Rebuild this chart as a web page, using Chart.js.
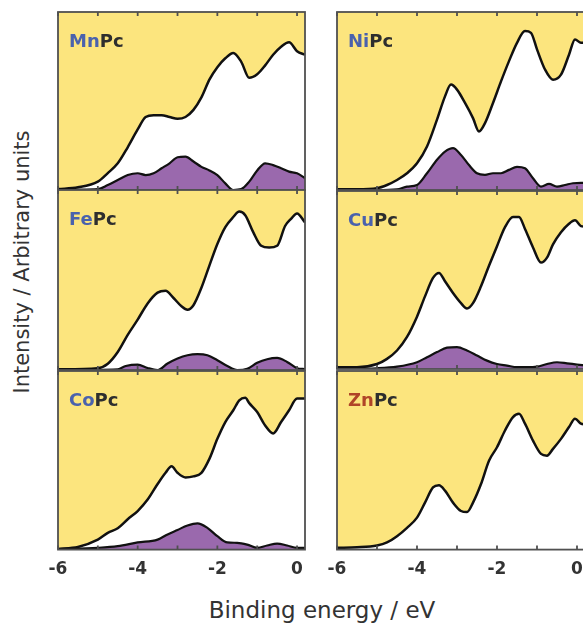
<!DOCTYPE html>
<html>
<head>
<meta charset="utf-8">
<script src="https://cdn.jsdelivr.net/npm/chart.js@4.4.1/dist/chart.umd.min.js"></script>
<style>
html,body{margin:0;padding:0;width:583px;height:623px;overflow:hidden;background:#fff;font-family:"DejaVu Sans",sans-serif;}
#wrap{position:relative;width:583px;height:623px;overflow:hidden;}
canvas.pan{position:absolute;}
.lbl{position:absolute;font-weight:bold;font-size:18px;line-height:18px;color:#2e2e2e;white-space:nowrap;}
.m{color:#4a62ad;}
.zn{color:#b04528;}
#ytitle{position:absolute;left:22px;top:262px;transform:translate(-50%,-50%) rotate(-90deg);font-size:21px;color:#333;white-space:nowrap;}
#xtitle{position:absolute;left:322px;top:610px;transform:translate(-50%,-50%);font-size:23px;color:#333;white-space:nowrap;}
</style>
</head>
<body>
<div id="wrap">
  <div id="ytitle">Intensity / Arbitrary units</div>
  <div id="xtitle">Binding energy / eV</div>
</div>
<script>
// ---------- DATA ----------
const tickLabels = [-6, -4, -2, 0];
const tickMarks = [-6, -5, -4, -3, -2, -1, 0];

// MnPc
const mnE   = [-6,-5.5,-5,-4.75,-4.5,-4.25,-4,-3.8,-3.6,-3.4,-3.2,-3,-2.8,-2.6,-2.4,-2.2,-2,-1.8,-1.6,-1.4,-1.2,-1,-0.8,-0.6,-0.4,-0.2,0,0.2];
const mnTot = [0.5,1.5,4.7,9.5,15,24,34,41,42,42,41,40,41,45,52,62,69,74,77,72,63,65,70,76,80.5,83,78,76];
const mnPE  = mnE;
const mnP   = [0,0.2,0.5,2.8,5.6,8.4,9.4,8.4,9.4,12.2,15,18.4,18.7,16,13,11,8.4,3.7,0,0.5,4.7,11,15,14,12.2,10.3,9.4,6.6];

// FePc
const feE   = [-6,-5,-4.75,-4.5,-4.25,-4,-3.75,-3.5,-3.3,-3.1,-2.9,-2.75,-2.6,-2.4,-2.2,-2,-1.8,-1.6,-1.45,-1.3,-1.1,-0.9,-0.7,-0.5,-0.3,-0.15,0,0.2];
const feTot = [0.4,1,3.5,10,19.5,28,37,43,44,40,35.4,33.5,36,45.7,58,70,79.4,85,88,86,76.6,69,68,69,80,84,87,82];
const fePE  = [-6,-4.5,-4.3,-4,-3.75,-3.5,-3.25,-3,-2.75,-2.5,-2.25,-2,-1.75,-1.5,-1.25,-1,-0.75,-0.5,-0.25,0,0.2];
const feP   = [0,0.4,2.2,3,1.1,0,3.6,6.4,8.2,8.8,8.2,5.4,2.2,0,0.7,4,6,6.7,4.5,1,0.5];

// CoPc
const coE   = [-6,-5.5,-5,-4.75,-4.5,-4.25,-4,-3.75,-3.5,-3.3,-3.15,-3,-2.8,-2.6,-2.4,-2.2,-2,-1.8,-1.6,-1.45,-1.3,-1.2,-1,-0.8,-0.6,-0.4,-0.2,0,0.2];
const coTot = [0.4,1.5,5.6,9.4,12,17,21.6,28,36.7,43,46.6,43,40.4,41,43,50.8,62,71.4,78,83.6,85,82,77,69.5,65,71.4,78,84.6,84.6];
const coPE  = [-6,-5,-4.5,-4,-3.5,-3.25,-3,-2.75,-2.5,-2.25,-2,-1.75,-1.5,-1.25,-1,-0.75,-0.5,-0.25,0,0.2];
const coP   = [0.3,1,1.9,4,5.6,8.5,11,13.5,14.7,12.2,7.5,4,3.8,2.8,1,2.3,3.4,2.3,1,1];

// NiPc
const niE   = [-6,-5.5,-5,-4.75,-4.5,-4.25,-4,-3.75,-3.5,-3.3,-3.15,-3,-2.8,-2.6,-2.45,-2.3,-2.1,-1.9,-1.7,-1.5,-1.3,-1.15,-1,-0.8,-0.6,-0.4,-0.2,-0.05,0.1,0.2];
const niTot = [0.4,0.4,1,2.8,5.6,9.4,15,24.4,39.5,52.6,59.2,56.4,48.9,40.4,32.9,37.6,48.9,61,72.4,82.7,89.3,88.3,79,67.7,62,64.8,76,84.6,82.7,82.7];
const niPE  = [-6,-5,-4.5,-4.25,-4,-3.75,-3.5,-3.3,-3.1,-2.9,-2.7,-2.5,-2.3,-2.1,-1.9,-1.7,-1.5,-1.3,-1.1,-0.9,-0.7,-0.5,-0.3,-0.1,0.1,0.2];
const niP   = [0,0,0.4,1.9,2.8,9.4,17,21.6,23.5,19.7,14,9.4,8.5,9.4,9.4,11.3,13,12.2,6.6,1.9,3.4,1.9,2.8,3.8,4,4];

// CuPc
const cuE   = [-6,-5.5,-5,-4.75,-4.5,-4.25,-4,-3.8,-3.6,-3.45,-3.3,-3.1,-2.9,-2.75,-2.6,-2.4,-2.2,-2,-1.8,-1.6,-1.45,-1.3,-1.1,-0.9,-0.75,-0.6,-0.4,-0.2,-0.05,0.1,0.2];
const cuTot = [1,1,2.8,5.7,10.4,18,29.4,40.8,51.2,54,49.3,42.7,37,34,37,46.5,58,69,79.7,85.4,85.4,78.7,68.3,59.8,62.6,70,76.8,81.6,83.5,80.3,80];
const cuPE  = [-6,-5,-4.5,-4,-3.75,-3.5,-3.25,-3,-2.75,-2.5,-2.25,-2,-1.75,-1.5,-1.25,-1,-0.75,-0.5,-0.25,0,0.2];
const cuP   = [0,0.4,1.3,3.8,6.6,9.5,12,12.3,10.4,7.6,4.7,2.8,1.9,1,1,1.3,2.8,3.8,3.2,2.5,2];

// ZnPc
const znE   = [-6,-5.5,-5,-4.75,-4.5,-4.25,-4,-3.8,-3.6,-3.45,-3.3,-3.1,-2.9,-2.75,-2.6,-2.4,-2.2,-2,-1.8,-1.6,-1.45,-1.3,-1.1,-0.9,-0.75,-0.6,-0.4,-0.2,-0.05,0.1,0.2];
const znTot = [1,1.3,2.3,4,7.5,12.2,17.9,26.3,34.8,36,33,26.3,21.6,21,26.3,36.7,49.8,57.3,66.7,74.2,76,70.5,61,53.6,52.6,56.4,62,68.6,73.3,70.5,70];
const znPE  = [];
const znP   = [];

// ---------- STYLE / LAYOUT ----------
const YELLOW = '#fce57e';
const PURPLE = '#9a69ad';
const FRAME  = '#505050';
const M = 20;               // canvas margin around plot area
const AXIS_H = 40;          // tick label band on bottom panels (measured: 40.4)

const panels = [
  {m:'Mn', E:mnE, T:mnTot, PE:mnPE, P:mnP, left:58,  top:12,  w:247, h:178, bottom:false},
  {m:'Fe', E:feE, T:feTot, PE:fePE, P:feP, left:58,  top:190, w:247, h:180, bottom:false},
  {m:'Co', E:coE, T:coTot, PE:coPE, P:coP, left:58,  top:371, w:247, h:179, bottom:true},
  {m:'Ni', E:niE, T:niTot, PE:niPE, P:niP, left:337, top:12,  w:248, h:178, bottom:false},
  {m:'Cu', E:cuE, T:cuTot, PE:cuPE, P:cuP, left:337, top:191, w:248, h:178, bottom:false},
  {m:'Zn', E:znE, T:znTot, PE:znPE, P:znP, left:337, top:371, w:248, h:179, bottom:true}
];

const pts = (xs, ys) => xs.map((x, i) => ({x: x, y: ys[i]}));

const decoPlugin = {
  id: 'panelDeco',
  beforeDraw(chart) {
    const {ctx, chartArea: a} = chart;
    ctx.save();
    ctx.fillStyle = YELLOW;
    ctx.fillRect(a.left, a.top, a.right - a.left, a.bottom - a.top);
    ctx.restore();
  },
  afterDraw(chart) {
    const {ctx, chartArea: a} = chart;
    const x = chart.scales.x;
    ctx.save();
    ctx.strokeStyle = FRAME;
    ctx.lineWidth = 1.8;
    ctx.strokeRect(a.left, a.top, a.right - a.left, a.bottom - a.top);
    ctx.beginPath();
    tickMarks.forEach(v => {
      const px = x.getPixelForValue(v);
      ctx.moveTo(px, a.top); ctx.lineTo(px, a.top + 4);
      ctx.moveTo(px, a.bottom); ctx.lineTo(px, a.bottom - 4);
    });
    ctx.stroke();
    ctx.restore();
  }
};

const wrap = document.getElementById('wrap');

panels.forEach(p => {
  const cv = document.createElement('canvas');
  cv.className = 'pan';
  const W = p.w + 2 * M;
  const H = p.bottom ? M + p.h + AXIS_H : p.h + 2 * M;
  cv.width = W; cv.height = H;
  cv.style.width = W + 'px'; cv.style.height = H + 'px';
  cv.style.left = (p.left - M) + 'px';
  cv.style.top = (p.top - M) + 'px';
  wrap.appendChild(cv);

  const datasets = [];
  if (p.P.length) {
    datasets.push({
      data: pts(p.PE, p.P), borderColor: '#111', borderWidth: 2.2,
      backgroundColor: PURPLE, fill: 'start', pointRadius: 0,
      cubicInterpolationMode: 'monotone'
    });
  }
  datasets.push({
    data: pts(p.E, p.T), borderColor: '#111', borderWidth: 2.5,
    backgroundColor: '#ffffff', fill: 'start', pointRadius: 0,
    cubicInterpolationMode: 'monotone'
  });

  new Chart(cv, {
    type: 'line',
    data: { datasets: datasets },
    options: {
      responsive: false,
      animation: false,
      devicePixelRatio: 1,
      layout: { padding: { left: M, right: M, top: M, bottom: p.bottom ? 0 : M } },
      plugins: { legend: { display: false }, tooltip: { enabled: false } },
      scales: {
        x: {
          type: 'linear', min: -6, max: 0.2,
          display: p.bottom,
          grid: { display: false, drawTicks: false },
          border: { display: false },
          afterBuildTicks: s => { s.ticks = tickLabels.map(v => ({value: v})); },
          ticks: {
            padding: 10,
            color: '#333',
            font: { family: 'DejaVu Sans', size: 17, weight: 'bold' },
            callback: v => String(v)
          }
        },
        y: { type: 'linear', min: 0, max: 100, display: false }
      }
    },
    plugins: [decoPlugin]
  });

  const lbl = document.createElement('div');
  lbl.className = 'lbl';
  lbl.style.left = (p.left + 11) + 'px';
  lbl.style.top = (p.top + 20) + 'px';
  const ms = document.createElement('span');
  ms.className = p.m === 'Zn' ? 'zn' : 'm';
  ms.textContent = p.m;
  lbl.appendChild(ms);
  lbl.appendChild(document.createTextNode('Pc'));
  wrap.appendChild(lbl);
});
</script>
</body>
</html>
